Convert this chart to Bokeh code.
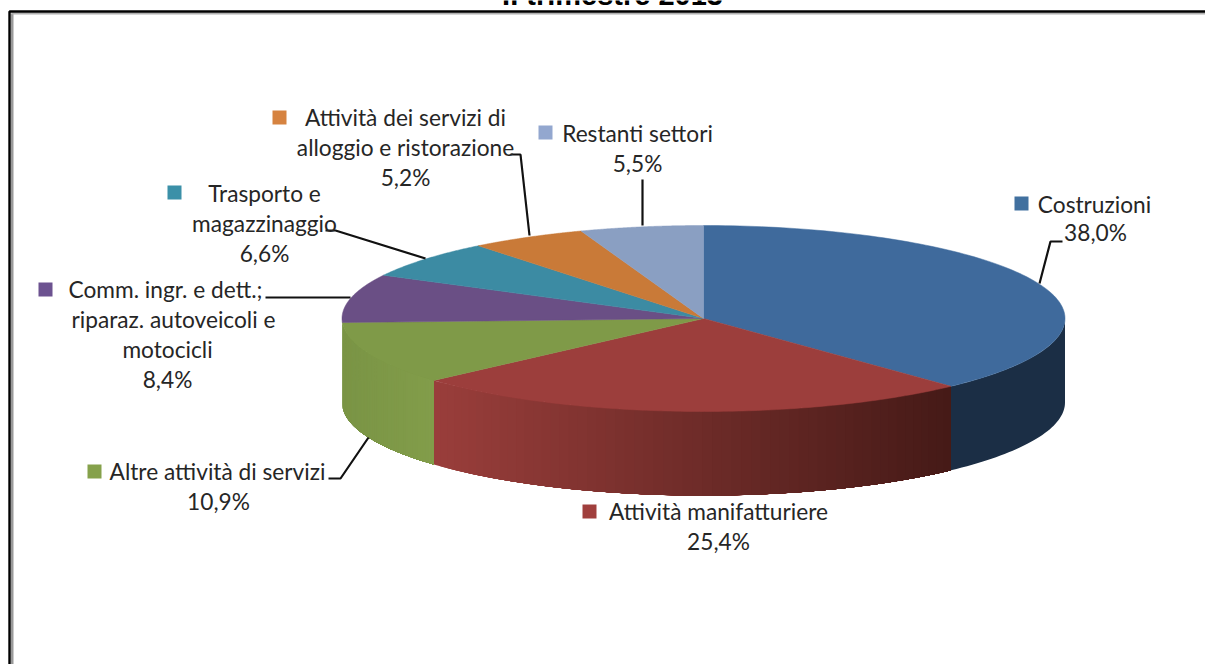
import numpy as np
from bokeh.plotting import figure
from bokeh.models import Range1d
from bokeh.core.properties import value
from bokeh.embed import file_html
from bokeh.resources import INLINE

# ---- data ----
categories = ["Costruzioni", "Attività manifatturiere", "Altre attività di servizi",
              "Comm. ingr. e dett.; riparaz. autoveicoli e motocicli",
              "Trasporto e magazzinaggio", "Attività dei servizi di alloggio e ristorazione",
              "Restanti settori"]
shares = [38.0, 25.4, 10.9, 8.4, 6.6, 5.2, 5.5]
share_labels = ["38,0%", "25,4%", "10,9%", "8,4%", "6,6%", "5,2%", "5,5%"]
title_text = "II trimestre 2013"

# ---- style ----
top_colors = ["#3f6a9c", "#9c3e3c", "#7f9a48", "#6a4f85", "#3c8ba3", "#c97a38", "#8a9fc2"]
key_colors = ["#41709f", "#a03f3d", "#85a14b", "#6c5290", "#3b90a8", "#d68340", "#93a7cf"]
side_left = ["#1b2e45", "#9a3e3b", "#7a9445", "#7a9445", "#2f6f82", "#a5622c", "#70829f"]
side_right = ["#1b2e45", "#451a17", "#829d4a", "#7a9445", "#2f6f82", "#a5622c", "#70829f"]

# ---- layout (pixels of the page) ----
W, H = 1205, 664
CX, CY, RX, RY, DEPTH = 703, 318, 361.5, 93, 84

label_lines = [
    ("Costruzioni", 1094, 204), ("38,0%", 1095, 232),
    ("Attività manifatturiere", 718, 511), ("25,4%", 718, 541),
    ("Altre attività di servizi", 217, 471), ("10,9%", 218, 501),
    ("Comm. ingr. e dett.;", 165, 289), ("riparaz. autoveicoli e", 173, 319),
    ("motocicli", 167, 349), ("8,4%", 167, 379),
    ("Trasporto e", 264, 193), ("magazzinaggio", 264, 223), ("6,6%", 264, 253),
    ("Attività dei servizi di", 405, 117), ("alloggio e ristorazione", 405, 147), ("5,2%", 405, 177),
    ("Restanti settori", 637, 133), ("5,5%", 637, 163),
]
key_pos = [(1021, 203), (589, 511), (94, 471), (45, 289), (174, 192), (279, 117), (545, 132)]
leaders = [
    ([1062, 1050, 1039], [241, 241, 283]),
    ([328, 340, 368], [478, 478, 437]),
    ([265, 350], [297, 297]),
    ([325, 335, 425], [230, 230, 258]),
    ([510, 520, 529], [154, 154, 235]),
    ([642, 642], [179, 225]),
]


def ex(t):
    return CX + RX * np.sin(t)


def ey(t):
    return CY - RY * np.cos(t)


p = figure(width=W, height=H, x_range=Range1d(0, W), y_range=Range1d(H, 0),
           x_axis_type=None, y_axis_type=None, toolbar_location=None,
           output_backend="svg", min_border=0, outline_line_color=None,
           background_fill_color="white", border_fill_color="white")
p.grid.visible = False

# frame
p.line([11.5, 11.5], [13, H], line_color="#9a9a9a", line_width=3)
p.line([11, W], [13, 13], line_color="#b0b0b0", line_width=2)
p.line([9, 9, W], [H, 11, 11], line_color="black", line_width=2.4)

# title, cut off by the top of the page as in the source
p.text([612], [5], text=[title_text], text_font=value("Liberation Sans"), text_font_style="bold",
       text_font_size="29px", text_align="center", text_baseline="alphabetic", text_color="black",
       y_offset=-11)

edges = np.cumsum([0.0] + shares) / 100 * 2 * np.pi

# side walls (only the front half of the cake shows them)
for i in range(len(shares)):
    a, b = max(edges[i], np.pi / 2), min(edges[i + 1], 3 * np.pi / 2)
    if b <= a:
        continue
    cl = np.array([int(side_left[i][k:k + 2], 16) for k in (1, 3, 5)], float)
    cr = np.array([int(side_right[i][k:k + 2], 16) for k in (1, 3, 5)], float)
    n = 60 if side_left[i] != side_right[i] else 2
    steps = np.linspace(b, a, n)  # left to right on the page
    xl, xr = ex(steps[0]), ex(steps[-1])
    for t0, t1 in zip(steps[:-1], steps[1:]):
        # each strip runs on to the wedge's right end, so the next one overpaints it without seams
        tt = np.linspace(t0, a, 40)
        xs = np.concatenate([ex(tt), ex(tt[::-1])])
        ys = np.concatenate([ey(tt), ey(tt[::-1]) + DEPTH])
        f = (ex(0.5 * (t0 + t1)) - xl) / max(xr - xl, 1)
        c = cl + (cr - cl) * f
        col = "#%02x%02x%02x" % tuple(int(round(v)) for v in c)
        p.patch(xs, ys, fill_color=col, line_color=None)

# top surface
for i in range(len(shares)):
    tt = np.linspace(edges[i], edges[i + 1], 120)
    p.patch(np.concatenate([[CX], ex(tt)]), np.concatenate([[CY], ey(tt)]),
            fill_color=top_colors[i], line_color=top_colors[i], line_width=0.5)

# leader lines
for xs, ys in leaders:
    p.line(xs, ys, line_color="#111111", line_width=2.2)

# legend keys
p.scatter([k[0] for k in key_pos], [k[1] for k in key_pos], marker="square", size=14,
          fill_color=key_colors, line_color=None)

# labels
p.text([l[1] for l in label_lines], [l[2] for l in label_lines], text=[l[0] for l in label_lines],
       text_font=value("Lato"), text_font_size="22.7px", text_align="center",
       text_baseline="middle", text_color="#262626")

open("out.html", "w").write(file_html(p, INLINE))
